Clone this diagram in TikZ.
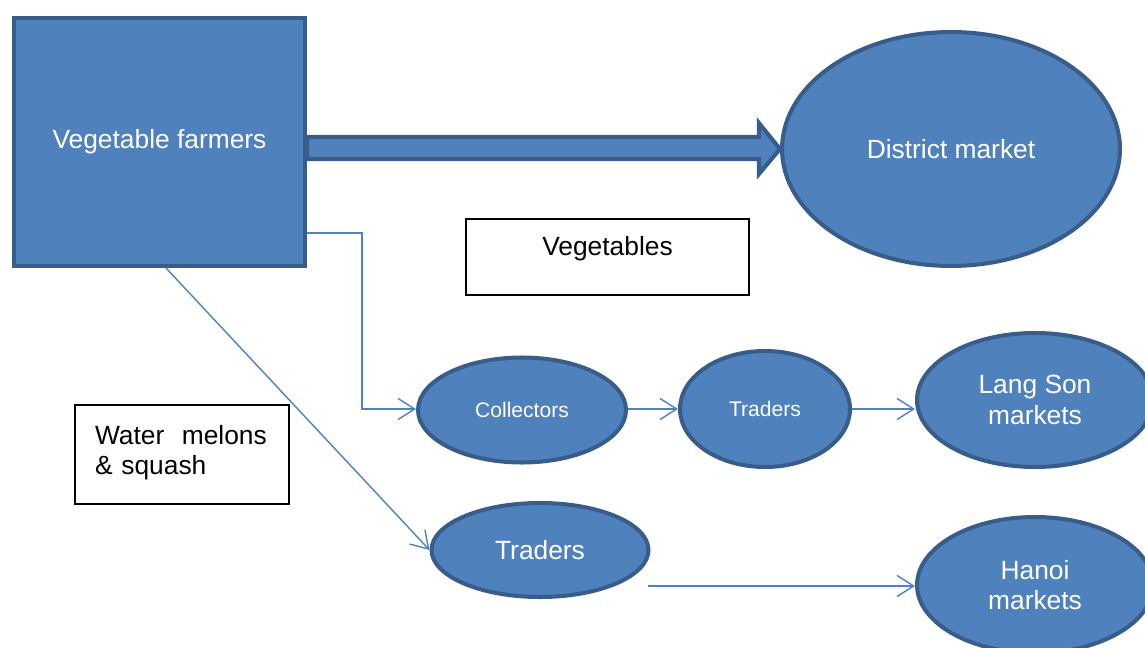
\documentclass[tikz,border=0pt]{standalone}
\usepackage{fontspec}
\setmainfont{Liberation Sans}
\usetikzlibrary{shapes.geometric,arrows.meta}
\definecolor{boxfill}{RGB}{79,129,189}
\definecolor{boxline}{RGB}{56,93,138}
\begin{document}
\begin{tikzpicture}[
x=0.02cm, y=-0.02cm,
>={Straight Barb[length=9.5pt,width=12pt]},
bigfont/.style={font=\fontsize{15}{17.25}\selectfont},
smallfont/.style={font=\fontsize{12}{14}\selectfont},
actor/.style={draw=boxline, fill=boxfill, line width=2.3pt, text=white, align=center, bigfont},
place/.style={actor, ellipse, inner sep=0pt},
note/.style={draw=black, line width=0.8pt, bigfont},
link/.style={draw=boxfill, line width=0.8pt, ->},
bigarrow/.style={draw=boxline, fill=boxfill, line width=2.3pt, line join=miter}
]
\useasboundingbox (0,0) rectangle (1145,648);

\node[actor, minimum width=5.82cm, minimum height=4.96cm] (farmers) at (159.5,142) {Vegetable farmers};
\node[place, minimum width=6.76cm, minimum height=4.68cm] (district) at (951,149) {District market};
\node[note, minimum width=5.66cm, minimum height=1.52cm, align=center] (vegetables) at (607.5,257) {Vegetables\\[-5pt]\mbox{}};
\node[note, inner xsep=0.4cm, text width=3.48cm, minimum height=1.98cm, align=left] (melons) at (182,454.5) {Water\ \ melons\\ \& squash\\[-12pt]\mbox{}};
\node[place, smallfont, minimum width=4.16cm, minimum height=2.1cm] (collectors) at (522,410) {Collectors};
\node[place, smallfont, minimum width=3.4cm, minimum height=2.32cm] (traders) at (765,409) {Traders};
\node[place, minimum width=4.72cm, minimum height=2.68cm] (langson) at (1035,400) {Lang Son\\ markets};
\node[place, minimum width=4.34cm, minimum height=1.88cm] (traders2) at (540,550) {Traders};
\node[place, minimum width=4.72cm, minimum height=2.72cm] (hanoi) at (1035,585) {Hanoi\\ markets};
\coordinate (hanoistart) at (648,586);

% thick arrow to the district market
\path[bigarrow] (farmers.east |- 0,137) -- (759,137) -- (759,123) -- (district.west)
  -- (759,174) -- (759,159) -- (farmers.east |- 0,159) -- cycle;

\path[link] (farmers.east |- 0,233) -| (362,409) -- (collectors.west |- 0,409);
\path[link] (collectors.east |- 0,409) -- (traders.west);
\path[link] (traders.east) -- (traders.east -| langson.west);
\path[link] ([xshift=0.13cm]farmers.south) -- (traders2.west);
\path[link] (hanoistart) -- (hanoistart -| hanoi.west);

\end{tikzpicture}
\end{document}
